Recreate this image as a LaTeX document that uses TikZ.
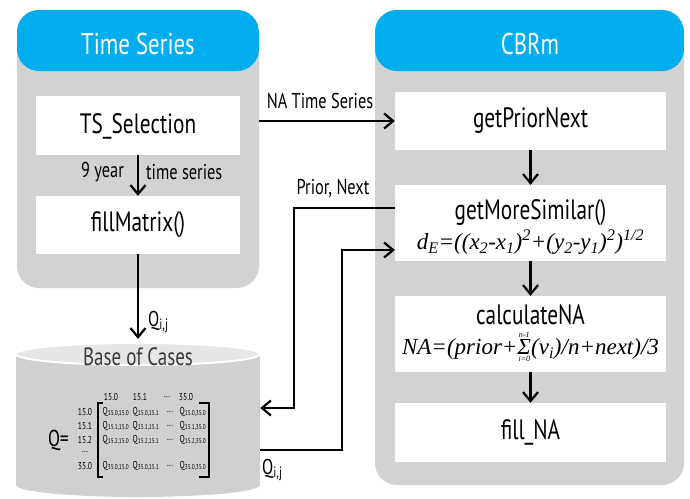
\documentclass[tikz,border=0pt]{standalone}
\usepackage{fontspec}
\setmainfont{PT Sans}[FakeStretch=0.76]
\newfontfamily\tms{Liberation Serif}
\usetikzlibrary{arrows.meta}
\definecolor{hdr}{HTML}{00AEEF}
\definecolor{pnl}{HTML}{D1D2D4}
\definecolor{cylbody}{HTML}{D0D0D0}
\definecolor{cyltop}{HTML}{E6E6E6}
\definecolor{darktxt}{HTML}{3A3A3A}
\newcommand{\fs}[1]{\fontsize{#1}{#1}\selectfont}
\newcommand{\Qe}[1]{Q\textsubscript{#1}}
\begin{document}
\begin{tikzpicture}[x=1pt,y=-1pt]
\tikzset{
  panel/.style={fill=pnl, rounded corners=22pt, inner sep=0pt,
    path picture={\fill[hdr] (path picture bounding box.north west) rectangle ([yshift=-61pt]path picture bounding box.north east);}},
  hdrtxt/.style={text=white, font=\fs{30}, inner sep=0pt},
  box/.style={fill=white, inner sep=0pt},
  boxtxt/.style={font=\fs{28}, inner sep=0pt},
  formula/.style={font=\tms\itshape\fs{23}, inner sep=0pt},
  conn/.style={line width=2.4pt, -{Straight Barb[length=9pt,width=15pt,line width=2.2pt]}},
  lbl/.style={font=\fs{21.5}, inner sep=0pt},
  mtx/.style={font=\fs{10}, inner sep=0pt},
  brk/.style={line width=1.3pt}
}
\useasboundingbox (0,0) rectangle (690,498);

% panels
\node[panel, minimum width=242pt, minimum height=278pt] (lp) at (138,149) {};
\node[panel, minimum width=309pt, minimum height=475pt] (rp) at (529.5,247.5) {};
\node[hdrtxt] (lpt) at (138,44) {Time Series};
\node[hdrtxt] (rpt) at (530,44) {CBRm};

% left boxes
\node[box, minimum width=204pt, minimum height=59pt] (tss) at (138,125.5) {};
\node[boxtxt] (tsst) at (138,126) {TS\_Selection};
\node[box, minimum width=204pt, minimum height=58pt] (fm) at (138,225) {};
\node[boxtxt] (fmt) at (138,225) {fillMatrix()};

% right boxes
\node[box, minimum width=271pt, minimum height=58pt] (gpn) at (530.5,121) {};
\node[boxtxt] (gpnt) at (530.5,121) {getPriorNext};
\node[box, minimum width=271pt, minimum height=76pt] (gms) at (530.5,223) {};
\node[boxtxt] (gmst) at (530.5,213) {getMoreSimilar()};
\node[formula] (gmsf) at (530.5,242) {d\textsubscript{E}=((x\textsubscript{2}-x\textsubscript{1})\textsuperscript{2}+(y\textsubscript{2}-y\textsubscript{1})\textsuperscript{2})\textsuperscript{1/2}};
\node[box, minimum width=271pt, minimum height=76pt] (cna) at (530.5,334) {};
\node[boxtxt] (cnat) at (530.5,315) {calculateNA};
\node[formula] (cnaf) at (530.5,347) {NA=(prior+$\mathop{\hbox{\tms\itshape Σ}}\limits^{\hbox{\tms\itshape\fs{8}n-1}}_{\hbox{\tms\itshape\fs{8}i=0}}$(v\textsubscript{i})/n+next)/3};
\node[box, minimum width=271pt, minimum height=59pt] (fna) at (530.5,432.5) {};
\node[boxtxt] (fnat) at (530.5,432) {fill\_NA};

% cylinder
\fill[cylbody] (16,354) rectangle (260,485);
\fill[cylbody] (138,485) ellipse [x radius=122, y radius=12];
\filldraw[fill=cyltop, draw=white, line width=2pt] (138,354) ellipse [x radius=122, y radius=11];
\node[minimum width=244pt, minimum height=154pt, inner sep=0pt] (cyl) at (138,420) {};
\node[font=\fs{25}, text=darktxt, inner sep=0pt] (boc) at (138,357) {Base of Cases};

% matrix
\node[font=\fs{23}, inner sep=0pt, anchor=east] (qeq) at (69,440) {Q=};
\node[mtx] (c1) at (111,397) {15.0};
\node[mtx] (c2) at (140,397) {15.1};
\node[mtx] (c3) at (167,397) {...};
\node[mtx] (c4) at (186,397) {35.0};
\node[mtx] (r1) at (85,412) {15.0};
\node[mtx] (r2) at (85,426) {15.1};
\node[mtx] (r3) at (85,440) {15.2};
\node[mtx] (r4) at (85,452) {...};
\node[mtx] (r5) at (85,466) {35.0};
\node[mtx] (e11) at (116,412) {\Qe{15.0,15.0}};
\node[mtx] (e12) at (146,412) {\Qe{15.0,15.1}};
\node[mtx] (e13) at (170,412) {...};
\node[mtx] (e14) at (193,412) {\Qe{15.0,35.0}};
\node[mtx] (e21) at (116,426) {\Qe{15.1,15.0}};
\node[mtx] (e22) at (146,426) {\Qe{15.1,15.1}};
\node[mtx] (e23) at (170,426) {...};
\node[mtx] (e24) at (193,426) {\Qe{15.1,35.0}};
\node[mtx] (e31) at (116,440) {\Qe{15.2,15.0}};
\node[mtx] (e32) at (146,440) {\Qe{15.2,15.1}};
\node[mtx] (e33) at (170,440) {...};
\node[mtx] (e34) at (193,440) {\Qe{15.2,35.0}};
\node[mtx] (e51) at (116,466) {\Qe{35.0,15.0}};
\node[mtx] (e52) at (146,466) {\Qe{35.0,15.1}};
\node[mtx] (e53) at (170,466) {...};
\node[mtx] (e54) at (193,466) {\Qe{35.0,35.0}};
\draw[brk] (103,403) -- (98,403) -- (98,477) -- (103,477);
\draw[brk] (199,403) -- (209,403) -- (209,477) -- (199,477);

% connectors
\draw[conn] (tss) -- (fm);
\draw[conn, shorten >=4pt] (fm) -- (fm |- cyl.north);
\draw[conn] (lp.east |- gpn.west) -- (gpn.west);
\draw[conn] (gpn) -- (gms);
\draw[conn] (gms) -- (cna);
\draw[conn] (cna) -- (fna);
\draw[conn] ([yshift=15pt]gms.west) -- ++(-101,0) |- ([yshift=12pt]cyl.east);
\draw[conn] ([yshift=-30pt]cyl.east) -- ++(82,0) |- ([yshift=-27pt]gms.west);

% labels
\node[lbl, anchor=east] (l9) at (124,172) {9 year};
\node[lbl, anchor=west] (lts) at (146,172) {time series};
\node[lbl, anchor=west] (lq1) at (148,322) {Q\textsubscript{i,j}};
\node[lbl] (lna) at (320,101) {NA Time Series};
\node[lbl] (lpn) at (333,188) {Prior, Next};
\node[lbl, anchor=west] (lq2) at (262,470) {Q\textsubscript{i,j}};
\end{tikzpicture}
\end{document}
